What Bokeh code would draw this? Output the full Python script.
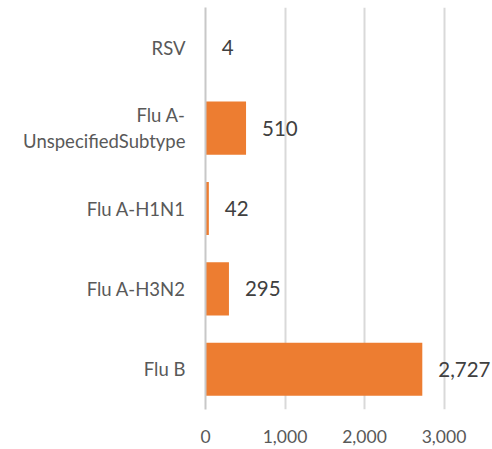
from bokeh.plotting import figure
from bokeh.models import FactorRange, Range1d, FixedTicker, NumeralTickFormatter, ColumnDataSource
from bokeh.core.properties import value
from bokeh.embed import file_html
from bokeh.resources import INLINE

categories = ["Flu B", "Flu A-H3N2", "Flu A-H1N1", "Flu A-\nUnspecifiedSubtype", "RSV"]
counts = [2727, 295, 42, 510, 4]
count_labels = ["2,727", "295", "42", "510", "4"]
x_ticks = [0, 1000, 2000, 3000]

src = ColumnDataSource(dict(cat=categories, val=counts, lab=count_labels))

p = figure(width=492, height=449, output_backend="svg", toolbar_location=None,
           y_range=FactorRange(factors=categories, range_padding=0),
           x_range=Range1d(0, 3610),
           min_border_left=205, min_border_right=0, min_border_top=7, min_border_bottom=40)
p.outline_line_color = None
p.background_fill_color = "white"
p.border_fill_color = "white"

p.hbar(y="cat", right="val", left=0, height=0.66, source=src,
       fill_color="#ED7D31", line_color=None)

p.text(x="val", y="cat", text="lab", source=src, x_offset=16,
       text_baseline="middle", text_align="left",
       text_font=value("Lato"), text_font_size="20.5px", text_color="#404040")

p.xaxis.ticker = FixedTicker(ticks=x_ticks)
p.xaxis.formatter = NumeralTickFormatter(format="0,0")
p.xaxis.axis_line_color = None
p.xaxis.major_tick_line_color = None
p.xaxis.minor_tick_line_color = None
p.xaxis.major_tick_out = 0
p.xaxis.major_label_standoff = 20
p.xaxis.major_label_text_font = "Lato"
p.xaxis.major_label_text_font_size = "17.5px"
p.xaxis.major_label_text_color = "#595959"

p.yaxis.axis_line_color = "#C8C8C8"
p.yaxis.axis_line_width = 2
p.yaxis.major_tick_line_color = None
p.yaxis.minor_tick_line_color = None
p.yaxis.major_tick_out = 0
p.yaxis.major_label_standoff = 20
p.yaxis.major_label_text_font = "Lato"
p.yaxis.major_label_text_font_size = "18.5px"
p.yaxis.major_label_text_color = "#595959"

p.xgrid.ticker = FixedTicker(ticks=x_ticks)
p.xgrid.grid_line_color = "#D9D9D9"
p.xgrid.grid_line_width = 2
p.ygrid.grid_line_color = None

open("out.html", "w").write(file_html(p, INLINE))
